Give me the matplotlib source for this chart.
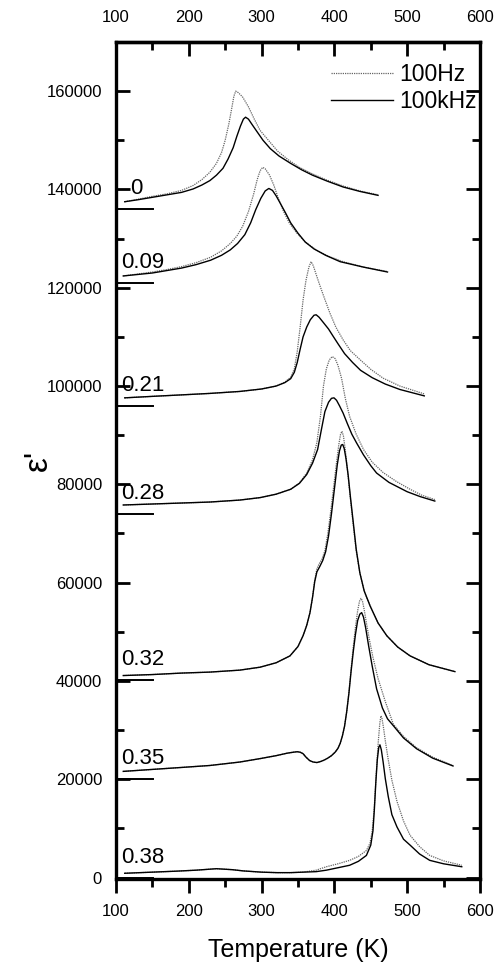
import matplotlib
matplotlib.use('Agg')
import matplotlib.pyplot as plt
from matplotlib.ticker import MultipleLocator

plt.rcParams['font.family'] = ['Liberation Sans', 'DejaVu Sans']

# composition labels and the baseline level of each shifted curve
compositions = ['0', '0.09', '0.21', '0.28', '0.32', '0.35', '0.38']
baselines = [136000, 121000, 96000, 74000, 40200, 20100, 0]

# x = 0
T_0_hz = [112, 130, 150, 170, 190, 206, 218, 229, 238, 245, 250, 255, 259, 262, 264.5, 268, 274, 282, 290,
          298, 310, 322, 337, 352, 368, 388, 412, 435, 460]
e_0_hz = [137500, 138000, 138600, 139100, 139800, 140800, 142000, 143500, 145300, 147500, 150000, 153300,
          156500, 159000, 160000, 159700, 158800, 156800, 154300, 152000, 149900, 147800, 146000, 144500,
          143300, 142000, 140700, 139700, 138900]
T_0_khz = [112, 130, 150, 170, 190, 206, 218, 229, 238, 247, 254, 261, 266, 271, 275, 278, 282, 287, 294,
           302, 312, 324, 340, 355, 370, 390, 412, 435, 460]
e_0_khz = [137500, 137900, 138400, 138900, 139400, 140100, 140900, 141800, 142900, 144300, 146200, 148500,
           150800, 152900, 154300, 154700, 154300, 153200, 151700, 150000, 148300, 146800, 145300, 144000,
           142900, 141700, 140500, 139600, 138800]

# x = 0.09
T_009_hz = [110, 130, 150, 170, 190, 210, 230, 245, 257, 266, 274, 282, 289, 294, 298, 301.5, 305, 311, 317,
            323, 330, 338, 348, 360, 375, 392, 412, 440, 473]
e_009_hz = [122400, 122800, 123200, 123700, 124300, 125100, 126200, 127500, 129000, 130500, 132500, 135500,
            139000, 142000, 143800, 144500, 144200, 142900, 140800, 138200, 135600, 133200, 131200, 129300,
            127700, 126400, 125300, 124200, 123300]
T_009_khz = [110, 130, 150, 170, 190, 210, 230, 245, 257, 267, 277, 285, 292, 299, 305, 310, 315, 320, 326,
             333, 340, 350, 360, 372, 388, 408, 440, 473]
e_009_khz = [122400, 122700, 123000, 123500, 124000, 124700, 125600, 126600, 127700, 129000, 130800, 133200,
             135900, 138200, 139700, 140200, 139800, 138700, 137100, 135200, 133200, 131100, 129300, 127900,
             126600, 125300, 124200, 123200]

# x = 0.21
T_021_hz = [112, 150, 190, 229, 270, 300, 320, 332, 340, 345, 349, 353, 357, 361, 365, 368, 371, 375, 380,
            387, 394, 402, 412, 422, 435, 450, 467, 490, 523.5]
e_021_hz = [97600, 97900, 98200, 98500, 98900, 99400, 100000, 100800, 101800, 103500, 107000, 112000,
            117500, 121500, 124200, 125300, 124500, 122700, 120500, 117600, 114800, 112000, 109400, 107200,
            105400, 103400, 101600, 100000, 98400]
T_021_khz = [112, 150, 190, 229, 270, 300, 320, 332, 340, 345, 349, 353, 357, 362, 367, 372, 375, 379, 385,
             392, 398, 405, 414, 425, 436, 452, 470, 490, 523.5]
e_021_khz = [97600, 97900, 98200, 98500, 98900, 99400, 100000, 100700, 101500, 102800, 104800, 107500,
             110000, 112000, 113500, 114400, 114500, 114000, 112900, 111600, 110200, 108600, 106600, 104800,
             103200, 101700, 100400, 99300, 98000]

# x = 0.28
T_028_hz = [110, 150, 190, 229, 270, 298, 320, 340, 352, 362, 370, 376, 381, 385, 389, 393, 397, 401, 405,
            410, 415, 421, 430, 440, 452, 467, 485, 504, 520, 538]
e_028_hz = [75800, 76000, 76200, 76400, 76800, 77300, 78000, 79000, 80300, 82300, 85000, 88500, 94000,
            100000, 103500, 105300, 106000, 105600, 104200, 101500, 97500, 93800, 90200, 87100, 84500, 82400,
            80600, 79000, 77800, 76900]
T_028_khz = [110, 150, 190, 229, 270, 298, 320, 340, 352, 362, 370, 377, 382, 387, 392, 396, 399.5, 403, 407,
             412, 418, 424, 430.6, 440, 450, 458, 475, 500, 518, 538]
e_028_khz = [75800, 76000, 76200, 76400, 76800, 77300, 78000, 79000, 80200, 82000, 84300, 87100, 91000,
             94800, 96700, 97500, 97600, 97100, 96000, 94500, 92300, 90200, 88400, 86000, 83800, 82300, 80400,
             78500, 77500, 76600]

# x = 0.32
T_032_hz = [110, 150, 190, 229, 270, 298, 320, 339, 350, 357, 362, 366.5, 370, 373, 376, 379, 383, 387, 391,
            395, 399, 403, 406, 408.5, 410.5, 412.5, 415, 418, 421, 425, 430, 435, 441, 449, 460, 472, 487,
            504, 530, 565.6]
e_032_hz = [41100, 41300, 41600, 41800, 42200, 42800, 43700, 45100, 47000, 49200, 51300, 53900, 57000,
            60500, 62800, 63800, 64800, 66500, 70000, 74500, 79500, 84500, 88000, 90200, 90800, 89800, 87000,
            83000, 78500, 73000, 66500, 62000, 58300, 55300, 51800, 49200, 46900, 45100, 43300, 41900]
T_032_khz = [110, 150, 190, 229, 270, 298, 320, 339, 350, 357, 362, 366.5, 370, 373, 376, 380, 384, 388, 392,
             396, 400, 404, 407, 409.5, 411.5, 413.5, 416, 419, 422, 426, 430, 435, 441, 449, 460, 472, 487,
             504, 530, 565.6]
e_032_khz = [41100, 41300, 41600, 41800, 42200, 42800, 43700, 45100, 47000, 49200, 51300, 53900, 57000,
             60200, 62200, 63300, 64500, 66300, 69500, 74000, 79000, 84000, 86800, 88000, 88100, 87300, 85200,
             81800, 77500, 72200, 66800, 62000, 58300, 55300, 51800, 49200, 46900, 45100, 43300, 41900]

# x = 0.35
T_035_hz = [110, 150, 190, 229, 270, 298, 320, 335, 343.5, 349, 353, 357, 361, 366, 371, 376, 381, 386, 391,
            396, 401, 405, 408, 411, 414, 417, 420, 423, 426, 429, 432, 434.5, 436.5, 438.5, 441, 444, 448,
            453, 460, 470, 481, 495, 513, 535, 563]
e_035_hz = [21600, 22000, 22400, 22800, 23500, 24200, 24800, 25300, 25500, 25600, 25500, 25200, 24500,
            23800, 23500, 23400, 23600, 23900, 24300, 24800, 25500, 26300, 27300, 28800, 30800, 33800, 37800,
            42500, 47000, 51000, 54300, 56200, 56800, 56300, 54500, 51800, 48500, 44800, 40500, 35800, 31200,
            28700, 26400, 24500, 22800]
T_035_khz = [110, 150, 190, 229, 270, 298, 320, 335, 343.5, 349, 353, 357, 361, 366, 371, 376, 381, 386, 391,
             396, 401, 405, 408, 411, 414, 417, 420, 423, 426, 429, 432, 435, 437.5, 440, 443, 447, 452, 458,
             466, 473, 481, 495, 513, 535, 563]
e_035_khz = [21600, 22000, 22400, 22800, 23500, 24200, 24800, 25300, 25500, 25600, 25500, 25200, 24500,
             23800, 23500, 23400, 23600, 23900, 24300, 24800, 25500, 26300, 27300, 28800, 30800, 33800, 37500,
             42000, 46000, 49500, 52300, 53600, 53900, 53000, 50800, 47200, 43000, 38400, 34500, 32300, 30900,
             28400, 26200, 24300, 22700]

# x = 0.38
T_038_hz = [112, 150, 183, 210, 238, 260, 275, 300, 321, 340, 357, 375, 389, 405, 421, 433, 444, 449, 452,
            454.5, 456.5, 458.5, 460.5, 462.5, 464, 465.5, 467.5, 470, 474, 479, 486, 495, 504, 517, 531, 550,
            575]
e_038_hz = [870, 1100, 1300, 1500, 1800, 1600, 1350, 1100, 1000, 1000, 1100, 1500, 2200, 2800, 3500, 4300,
            5500, 7000, 9500, 13500, 18500, 23500, 28000, 31500, 32900, 32300, 30500, 27800, 24000, 19800,
            15500, 11500, 8600, 6300, 4500, 3400, 2500]
T_038_khz = [112, 150, 183, 210, 238, 260, 275, 300, 321, 340, 357, 375, 389, 405, 421, 433, 444, 450, 453,
             455, 457, 459, 461, 462.6, 464.5, 467, 470, 474, 479, 486, 495, 504, 517, 531, 550, 575]
e_038_khz = [870, 1100, 1300, 1500, 1800, 1600, 1350, 1100, 1000, 1000, 1100, 1200, 1500, 2000, 2500, 3300,
             4500, 6600, 9500, 14000, 19500, 24000, 26500, 27000, 26000, 23500, 20100, 16500, 12800, 10300,
             7800, 6600, 4800, 3500, 2800, 2200]

curves_hz = [(T_0_hz, e_0_hz), (T_009_hz, e_009_hz), (T_021_hz, e_021_hz), (T_028_hz, e_028_hz),
             (T_032_hz, e_032_hz), (T_035_hz, e_035_hz), (T_038_hz, e_038_hz)]
curves_khz = [(T_0_khz, e_0_khz), (T_009_khz, e_009_khz), (T_021_khz, e_021_khz), (T_028_khz, e_028_khz),
              (T_032_khz, e_032_khz), (T_035_khz, e_035_khz), (T_038_khz, e_038_khz)]

fig = plt.figure(figsize=(5.01, 9.63), dpi=100)
ax = fig.add_axes([0.2315, 0.0872, 0.7265, 0.8692])

for i in range(len(compositions)):
    th, eh = curves_hz[i]
    tk, ek = curves_khz[i]
    ax.plot(th, eh, color='#666666', lw=0.9, ls=(0, (1, 0.8)), label='100Hz' if i == 0 else None)
    ax.plot(tk, ek, color='black', lw=1.0, label='100kHz' if i == 0 else None)
    ax.plot([100, 151], [baselines[i], baselines[i]], color='black', lw=1.4, clip_on=False)
    tx = 119 if compositions[i] == '0' else 107
    ax.text(tx, baselines[i] + 2000, compositions[i], fontsize=16, ha='left', va='bottom')

ax.set_xlim(100, 600)
ax.set_ylim(-300, 170000)
ax.xaxis.set_major_locator(MultipleLocator(100))
ax.xaxis.set_minor_locator(MultipleLocator(50))
ax.yaxis.set_major_locator(MultipleLocator(20000))
ax.yaxis.set_minor_locator(MultipleLocator(10000))

for s in ax.spines.values():
    s.set_linewidth(2.4)

ax.tick_params(axis='y', which='both', direction='in', left=True, right=True, width=2, labelsize=12, pad=10)
ax.tick_params(axis='y', which='major', length=10)
ax.tick_params(axis='y', which='minor', length=6)
ax.tick_params(axis='x', which='both', direction='out', top=False, width=2, labelsize=12, pad=8)
ax.tick_params(axis='x', which='major', length=10)
ax.tick_params(axis='x', which='minor', length=6)

# top axis: inward ticks with its own labels
top = ax.secondary_xaxis('top')
top.xaxis.set_major_locator(MultipleLocator(100))
top.xaxis.set_minor_locator(MultipleLocator(50))
top.spines['top'].set_linewidth(2.4)
top.tick_params(axis='x', which='both', direction='in', width=2, labelsize=12, pad=12)
top.tick_params(axis='x', which='major', length=10)
top.tick_params(axis='x', which='minor', length=6)

ax.set_xlabel('Temperature (K)', fontsize=18, labelpad=14)
ax.set_ylabel("ε'", fontsize=24)
ax.yaxis.set_label_coords(-0.17, 0.5)

ax.legend(loc='upper left', bbox_to_anchor=(0.59, 0.975), frameon=False, fontsize=16.5,
          handlelength=2.7, handletextpad=0.3, labelspacing=0.2, borderpad=0, borderaxespad=0)

fig.savefig('out.png', dpi=100)
